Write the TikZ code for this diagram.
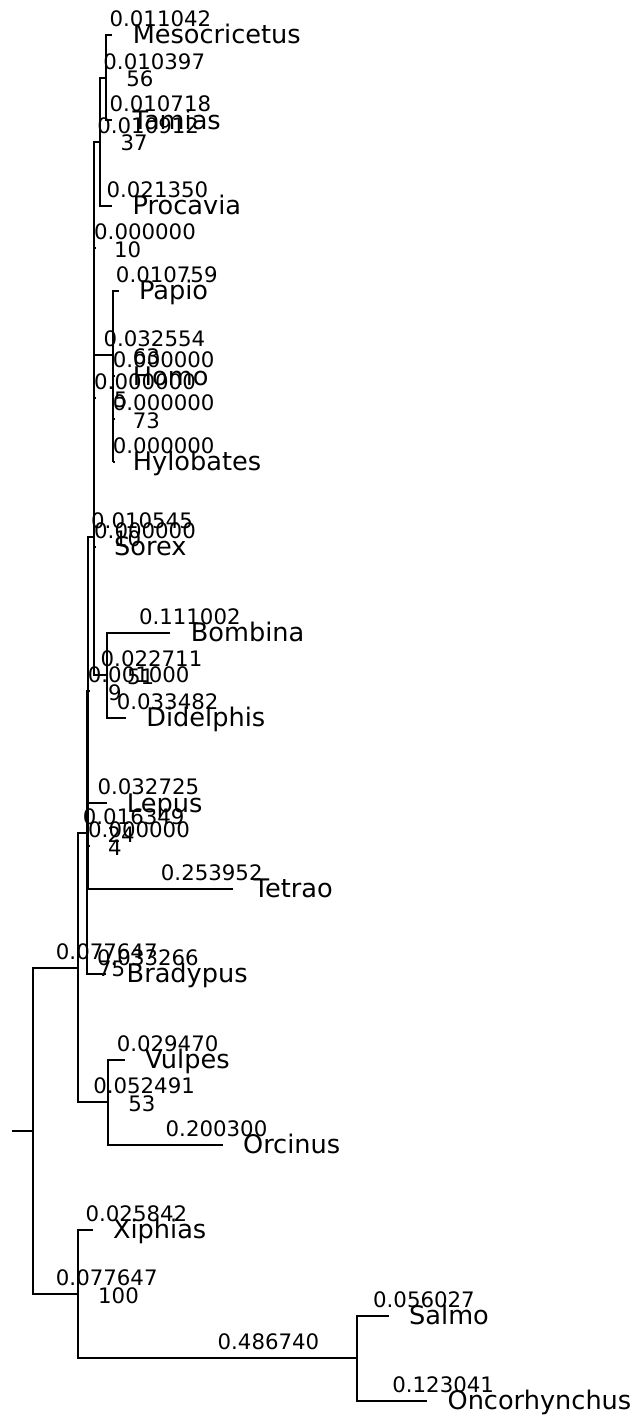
\documentclass[tikz,border=0pt]{standalone}
\usepackage{fontspec}
\setmainfont{DejaVu Sans}
\usetikzlibrary{calc}

\begin{document}
\begin{tikzpicture}[x=0.5pt,y=-0.5pt,
  branch/.style={line width=1pt},
  taxon/.style={anchor=base west,inner sep=0pt,font=\fontsize{12.8pt}{15pt}\selectfont},
  blen/.style={anchor=base west,inner sep=0pt,font=\fontsize{10.65pt}{13pt}\selectfont}]
 \useasboundingbox (0,0) rectangle (633,1416);
 % inner nodes, named after their support value
 \coordinate (stub) at (12.3,1131.1);
 \coordinate (root) at (33.3,1131.1);
 \coordinate (n75)  at (77.8,967.5);
 \coordinate (n100) at (77.8,1294.3);
 \coordinate (n24)  at (87.2,832.7);
 \coordinate (n9)   at (87.8,691.3);
 \coordinate (n4)   at (87.8,846.1);
 \coordinate (n10b) at (93.8,536.7);
 \coordinate (n5)   at (93.8,397.8);
 \coordinate (n10a) at (93.8,248.4);
 \coordinate (n37)  at (100.1,141.7);
 \coordinate (n56)  at (106.0,77.7);
 \coordinate (n63)  at (112.5,355.2);
 \coordinate (n73)  at (112.5,419.2);
 \coordinate (n51)  at (106.8,675.3);
 \coordinate (n53)  at (107.9,1102.2);
 \coordinate (nso)  at (356.7,1358.3);
 % leaves
 \coordinate (meso)      at (112.4,35);
 \coordinate (tamias)    at (112.2,120.4);
 \coordinate (procavia)  at (112.3,205.75);
 \coordinate (papio)     at (118.65,291.1);
 \coordinate (homo)      at (112.5,376.5);
 \coordinate (hylobates) at (112.5,461.9);
 \coordinate (sorex)     at (93.8,547.25);
 \coordinate (bombina)   at (170.45,632.6);
 \coordinate (didelphis) at (126.0,718);
 \coordinate (lepus)     at (106.55,803.4);
 \coordinate (tetrao)    at (233.3,888.75);
 \coordinate (bradypus)  at (106.3,974.1);
 \coordinate (vulpes)    at (124.8,1059.5);
 \coordinate (orcinus)   at (222.7,1144.9);
 \coordinate (xiphias)   at (92.6,1230.25);
 \coordinate (salmo)     at (388.8,1315.6);
 \coordinate (onco)      at (427.2,1401);

 \draw[branch] (stub) -- (root);
 \foreach \p/\a/\b in {n56/meso/tamias, n37/n56/procavia, n10a/n37/n63,
     n63/papio/n73, n73/homo/hylobates, n5/n10a/sorex, n10b/n5/n51,
     n51/bombina/didelphis, n9/n10b/n4, n4/lepus/tetrao, n24/n9/bradypus,
     n75/n24/n53, n53/vulpes/orcinus, n100/xiphias/nso, nso/salmo/onco,
     root/n75/n100}
   \draw[branch] (\a) -| (\p) |- (\b);
 \foreach \n in {n10a,n73,n5,n4,n9,homo,hylobates,sorex}
   \draw[branch] (\n) -- ++(2,0);

 % branch lengths
 \foreach \c/\p/\l in {meso/n56/0.011042, tamias/n56/0.010718, n56/n37/0.010397,
     procavia/n37/0.021350, n37/n10a/0.010912, papio/n63/0.010759,
     homo/n73/0.000000, hylobates/n73/0.000000, n73/n63/0.000000,
     n63/n10a/0.032554, n10a/n5/0.000000, sorex/n5/0.000000,
     n5/n10b/0.000000, bombina/n51/0.111002, didelphis/n51/0.033482,
     n51/n10b/0.022711, n10b/n9/0.010545, lepus/n4/0.032725,
     tetrao/n4/0.253952, n4/n9/0.000000, n9/n24/0.001000,
     bradypus/n24/0.033266, n24/n75/0.016349, vulpes/n53/0.029470,
     orcinus/n53/0.200300, n53/n75/0.052491, n75/root/0.077647,
     xiphias/n100/0.025842, salmo/nso/0.056027, onco/nso/0.123041,
     nso/n100/0.486740, n100/root/0.077647}
   \node[blen] (\c-bl) at ($(\p |- \c)!.5!(\c)+(0,-8.5)$) {\l};

 % support values
 \foreach \p/\v in {n56/56, n37/37, n10a/10, n63/63, n73/73, n5/5, n10b/10,
     n51/51, n9/9, n4/4, n24/24, n75/75, n53/53, n100/100}
   \node[blen] (\p-sup) at ([shift={(20,9.3)}]\p) {\v};

 % taxa
 \foreach \c/\t in {meso/Mesocricetus, tamias/Tamias, procavia/Procavia,
     papio/Papio, homo/Homo, hylobates/Hylobates, sorex/Sorex,
     bombina/Bombina, didelphis/Didelphis, lepus/Lepus, tetrao/Tetrao,
     bradypus/Bradypus, vulpes/Vulpes, orcinus/Orcinus, xiphias/Xiphias,
     salmo/Salmo, onco/Oncorhynchus}
   \node[taxon] (\c-name) at ([shift={(20,8.7)}]\c) {\t};
\end{tikzpicture}
\end{document}
